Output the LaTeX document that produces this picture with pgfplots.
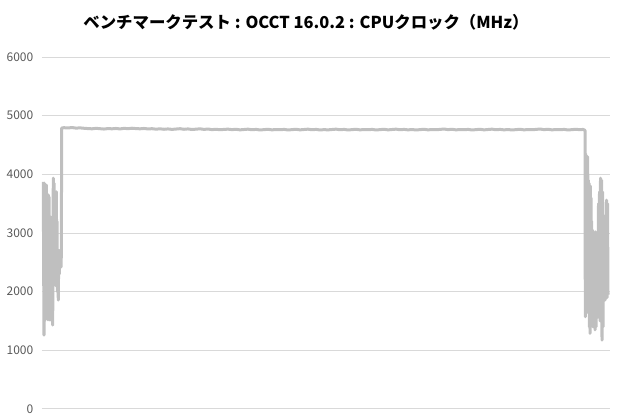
\documentclass[border=0pt]{standalone}
\usepackage{fontspec}
\setmainfont{Noto Sans CJK JP}
\usepackage{pgfplots}
\pgfplotsset{compat=1.18}
\definecolor{serie}{HTML}{BFBFBF}
\definecolor{gridc}{HTML}{D9D9D9}
\definecolor{tickc}{HTML}{595959}
\begin{document}
\begin{tikzpicture}[x=0.75pt,y=0.75pt]
\useasboundingbox (-42,-11) rectangle (578,409);
\begin{axis}[
    at={(0,0)}, anchor=south west,
    scale only axis,
    width=426pt, height=264pt,
    xmin=0, xmax=568,
    ymin=0, ymax=6000,
    ytick={0,1000,...,6000},
    xtick=\empty,
    ymajorgrids,
    grid style={gridc, line width=0.75pt},
    axis line style={draw=none},
    major tick length=0pt,
    /pgf/number format/assume math mode=true,
    /pgf/number format/1000 sep={},
    yticklabel style={font=\fontsize{9}{10}\selectfont, text=tickc, xshift=-3pt},
    clip=false,
]
\addplot[serie, line width=2.25pt, line join=round] coordinates {
(1.3,3870) (1.6,2600) (2.0,1260) (2.3,3850) (2.6,1500) (3.0,3820) (3.3,1700) (3.6,3300)
(4.0,1550) (4.4,3816) (4.7,2400) (5.0,3600) (5.3,1600) (5.7,3000) (6.0,1520) (6.3,3650)
(6.7,2000) (7.0,3617) (7.4,1700) (7.7,2900) (8.0,1516) (8.4,3277) (8.7,1800) (9.0,2800)
(9.4,1600) (9.7,3000) (10.0,1700) (10.4,2600) (10.7,1431) (11.0,2900) (11.3,3935) (11.6,2200)
(12.0,3850) (12.3,2800) (12.7,2200) (13.0,3700) (13.3,2600) (13.7,3650) (14.0,2100) (14.4,3703)
(14.7,2300) (15.0,3200) (15.4,2000) (15.7,2700) (16.0,2100) (16.3,1857) (16.6,2400) (17.0,2700)
(17.3,2300) (17.7,2700) (18.0,2500) (18.3,2640) (18.7,2420) (19.0,2424) (19.3,2600) (19.7,4790)
(22,4795) (26,4790) (30,4798) (34,4788) (38,4792) (42,4785) (46,4780) (50,4776)
(54,4784) (58,4778) (62,4772) (66,4780) (70,4776) (74,4782) (78,4774) (82,4784)
(86,4778) (90,4786) (94,4780) (98,4776) (102,4782) (106,4774) (110,4778) (114,4770)
(118,4776) (122,4768) (126,4774) (130,4766) (134,4772) (138,4778) (142,4768) (146,4774)
(150,4764) (154,4770) (158,4776) (162,4766) (166,4772) (170,4762) (174,4768) (178,4760)
(182,4766) (186,4770) (190,4762) (194,4768) (198,4758) (202,4764) (206,4770) (210,4760)
(214,4766) (218,4756) (222,4762) (226,4768) (230,4758) (234,4764) (238,4760) (242,4766)
(246,4756) (250,4762) (254,4768) (258,4758) (262,4764) (266,4770) (270,4760) (274,4766)
(278,4756) (282,4762) (286,4758) (290,4764) (294,4770) (298,4760) (302,4766) (306,4756)
(310,4762) (314,4768) (318,4758) (322,4764) (326,4760) (330,4766) (334,4756) (338,4762)
(342,4768) (346,4758) (350,4764) (354,4770) (358,4760) (362,4766) (366,4758) (370,4764)
(374,4756) (378,4762) (382,4768) (386,4758) (390,4764) (394,4760) (398,4766) (402,4772)
(406,4762) (410,4768) (414,4758) (418,4764) (422,4760) (426,4766) (430,4756) (434,4762)
(438,4768) (442,4758) (446,4764) (450,4770) (454,4760) (458,4766) (462,4758) (466,4764)
(470,4756) (474,4762) (478,4768) (482,4758) (486,4764) (490,4760) (494,4766) (498,4772)
(502,4762) (506,4768) (510,4758) (514,4764) (518,4760) (522,4766) (526,4756) (530,4762)
(534,4768) (538,4760) (541,4766) (543,4750)
(543.3,1572) (543.7,4350) (544.0,1800) (544.4,4320) (544.7,2000) (545.0,4250) (545.4,1650) (545.7,4300)
(546.0,2100) (546.4,3900) (546.7,1660) (547.0,3850) (547.4,1400) (547.7,3750) (548.0,1290) (548.4,3800)
(548.7,1700) (549.0,3600) (549.4,1500) (549.7,3200) (550.0,1600) (550.5,3050) (551.0,1400) (551.5,3000)
(552.0,1800) (552.5,2900) (553.0,1350) (553.5,3020) (554.0,1400) (554.5,2800) (555.0,1600) (555.5,3000)
(556.0,1567) (556.5,3500) (557.0,2000) (557.5,3700) (558.0,1500) (558.5,3935) (559.0,1800) (559.5,3900)
(560.0,1175) (560.5,3700) (561.0,1400) (561.5,3000) (562.0,1900) (562.5,2765) (563.0,1857) (563.5,3300)
(564.0,2000) (564.5,3560) (565.0,1900) (565.5,3500) (566.0,1950)
};
\node[font=\bfseries\fontsize{12.3}{14}\selectfont, anchor=center] at (axis description cs:0.4648,1.0994)
  {ベンチマークテスト : OCCT 16.0.2 : CPUクロック（MHz）};
\end{axis}
\end{tikzpicture}
\end{document}
